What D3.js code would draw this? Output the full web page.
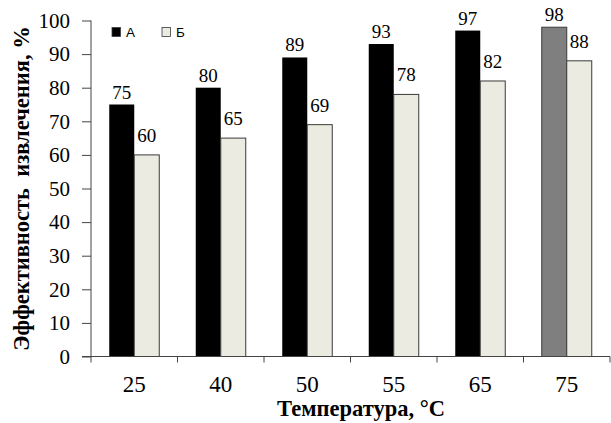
<!DOCTYPE html>
<html>
<head>
<meta charset="utf-8">
<script src="https://cdn.jsdelivr.net/npm/d3@7"></script>
<style>
  html, body { margin: 0; padding: 0; background: #fff; }
  svg { display: block; }
</style>
</head>
<body>
<svg id="chart" width="611" height="423"></svg>
<script>
// Extraction efficiency vs. temperature, two series
const temperatures = ["25", "40", "50", "55", "65", "75"];
const seriesNames = ["А", "Б"];
const valuesA = [75, 80, 89, 93, 97, 98];
const valuesB = [60, 65, 69, 78, 82, 88];
const yTicks = [0, 10, 20, 30, 40, 50, 60, 70, 80, 90, 100];
const highlightTemp = "75";

const svg = d3.select("#chart");
const serif = "'Liberation Serif', 'Times New Roman', serif";
const sans = "'Liberation Sans', Arial, sans-serif";

const plotLeft = 91, plotRight = 610, plotTop = 20.5, plotBottom = 356.5;

const x0 = d3.scaleBand().domain(temperatures).range([plotLeft, plotRight]).padding(0);
const x1 = d3.scaleBand().domain(seriesNames).range([0, x0.bandwidth()])
  .paddingInner(0).paddingOuter(0.73);
const y = d3.scaleLinear().domain([0, 100]).range([plotBottom, plotTop]);

const fillB = "#ecebe1";
const strokeCol = "#3a3a3a";

// bars
const rows = temperatures.map((t, i) => ({ t, a: valuesA[i], b: valuesB[i] }));
const g = svg.append("g");
rows.forEach(r => {
  const gx = x0(r.t);
  g.append("rect")
    .attr("x", gx + x1("А")).attr("y", y(r.a))
    .attr("width", x1.bandwidth()).attr("height", y(0) - y(r.a))
    .attr("fill", r.t === highlightTemp ? "#7f7f7f" : "#000")
    .attr("stroke", r.t === highlightTemp ? strokeCol : "none")
    .attr("stroke-width", 1);
  g.append("rect")
    .attr("x", gx + x1("Б")).attr("y", y(r.b))
    .attr("width", x1.bandwidth()).attr("height", y(0) - y(r.b))
    .attr("fill", fillB)
    .attr("stroke", strokeCol).attr("stroke-width", 1);
  // value labels
  g.append("text")
    .attr("x", gx + x1("А") + x1.bandwidth() / 2).attr("y", y(r.a) - 6)
    .attr("text-anchor", "middle")
    .attr("font-family", serif).attr("font-size", 19).attr("fill", "#000")
    .text(r.a);
  g.append("text")
    .attr("x", gx + x1("Б") + x1.bandwidth() / 2).attr("y", y(r.b) - 13)
    .attr("text-anchor", "middle")
    .attr("font-family", serif).attr("font-size", 19).attr("fill", "#000")
    .text(r.b);
});

// y axis
const yAxis = d3.axisLeft(y).tickValues(yTicks).tickSize(9).tickPadding(12);
const ya = svg.append("g").attr("transform", `translate(${plotLeft},0)`).call(yAxis);
ya.attr("font-family", serif);
ya.select(".domain").attr("stroke", "#444").attr("d", `M0,${plotBottom}V${plotTop}`);
ya.selectAll(".tick line").attr("stroke", "#444");
ya.selectAll(".tick text")
  .attr("font-family", serif).attr("font-size", 21).attr("fill", "#000");

// x axis with ticks on category boundaries
const xAxisLine = svg.append("g");
xAxisLine.append("line")
  .attr("x1", plotLeft - 9).attr("x2", plotRight)
  .attr("y1", plotBottom).attr("y2", plotBottom)
  .attr("stroke", "#444");
xAxisLine.selectAll("line.tk")
  .data(temperatures.map(t => x0(t)).concat([plotRight]))
  .join("line").attr("class", "tk")
  .attr("x1", d => d).attr("x2", d => d)
  .attr("y1", plotBottom).attr("y2", plotBottom + 6)
  .attr("stroke", "#444");
xAxisLine.selectAll("text")
  .data(temperatures)
  .join("text")
  .attr("x", d => x0(d) + x0.bandwidth() / 2)
  .attr("y", 391.5)
  .attr("text-anchor", "middle")
  .attr("font-family", serif).attr("font-size", 23).attr("fill", "#000")
  .text(d => d);

// axis titles
svg.append("text")
  .attr("x", 361).attr("y", 416)
  .attr("text-anchor", "middle")
  .attr("font-family", serif).attr("font-weight", "bold").attr("font-size", 22.5)
  .text("Температура, °C");

svg.append("text")
  .attr("transform", "translate(28.5,188.5) rotate(-90)")
  .attr("text-anchor", "middle")
  .attr("font-family", serif).attr("font-weight", "bold").attr("font-size", 22.5)
  .style("white-space", "pre")
  .text("Эффективность  извлечения, %");

// legend
const legend = svg.append("g");
const legendItems = [
  { name: seriesNames[0], fill: "#000", x: 112 },
  { name: seriesNames[1], fill: fillB, x: 162 }
];
legendItems.forEach(d => {
  legend.append("rect")
    .attr("x", d.x).attr("y", 27.5).attr("width", 8.5).attr("height", 9)
    .attr("fill", d.fill).attr("stroke", strokeCol).attr("stroke-width", 0.8);
  legend.append("text")
    .attr("x", d.x + 14).attr("y", 37)
    .attr("font-family", sans).attr("font-size", 13.5).attr("fill", "#000")
    .text(d.name);
});
</script>
</body>
</html>
